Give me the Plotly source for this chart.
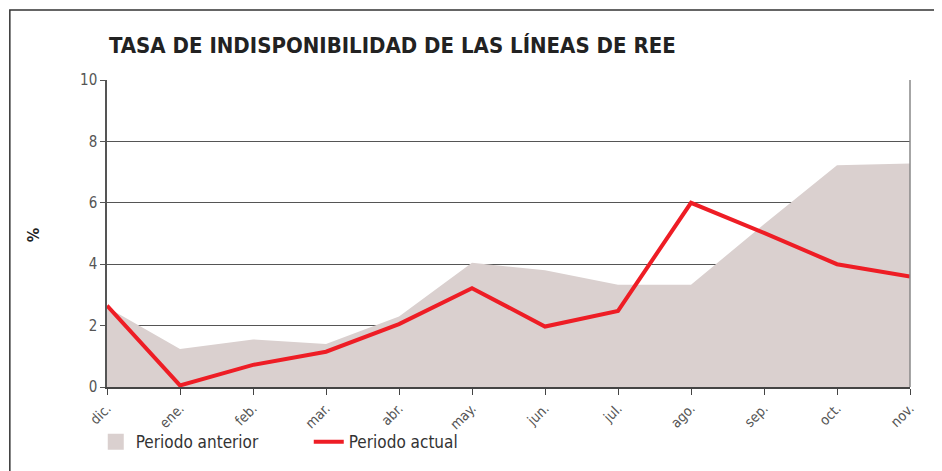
import plotly.graph_objects as go

meses = ["dic.", "ene.", "feb.", "mar.", "abr.", "may.", "jun.", "jul.", "ago.", "sep.", "oct.", "nov."]
periodo_anterior = [2.6, 1.24, 1.55, 1.4, 2.3, 4.05, 3.8, 3.33, 3.33, 5.3, 7.22, 7.28]
periodo_actual = [2.65, 0.05, 0.72, 1.15, 2.05, 3.22, 1.97, 2.48, 6.0, 5.02, 4.0, 3.6]

FONT = "DejaVu Sans Condensed, Liberation Sans Narrow, sans-serif"
AREA = "#dad0cf"

fig = go.Figure()
fig.add_trace(go.Scatter(
    x=meses, y=periodo_anterior, name="Periodo anterior",
    mode="none", fill="tozeroy", fillcolor=AREA, showlegend=False,
))
# legend patch for the area (square swatch like the original)
fig.add_trace(go.Scatter(
    x=[None], y=[None], name="Periodo anterior", mode="markers",
    marker=dict(symbol="square", size=17, color=AREA),
))
fig.add_trace(go.Scatter(
    x=meses, y=periodo_actual, name="Periodo actual",
    mode="lines", line=dict(color="#ee1d25", width=4),
))

# page body adds an 8px offset, so the figure is a bit smaller than the window
fig.update_layout(
    width=934, height=463,
    margin=dict(l=99, r=32, t=72, b=84, autoexpand=False),
    paper_bgcolor="white", plot_bgcolor="white",
    font=dict(family=FONT, color="#444", size=14),
    showlegend=True,
    legend=dict(
        orientation="h", x=-0.014, y=-0.18, xanchor="left", yanchor="middle",
        font=dict(size=17, color="#333"), entrywidth=168,
        bgcolor="rgba(0,0,0,0)", traceorder="normal",
    ),
    xaxis=dict(
        range=[0, 11], tickangle=-45, showgrid=False, showline=True,
        linecolor="#444", linewidth=1.5, ticks="outside", ticklen=6,
        tickcolor="#444", tickfont=dict(size=14, color="#555"), automargin=False,
    ),
    yaxis=dict(
        range=[0, 10], dtick=2, showgrid=True, gridcolor="#555", gridwidth=1,
        zeroline=False, showline=True, linecolor="#555", linewidth=1.5,
        ticks="outside", ticklen=5, tickcolor="#555",
        tickfont=dict(size=15, color="#555"), automargin=False,
    ),
    annotations=[
        dict(text="<b>TASA DE INDISPONIBILIDAD DE LAS LÍNEAS DE REE</b>",
             xref="paper", yref="paper", x=0, y=1.114, xanchor="left", yanchor="middle",
             showarrow=False, font=dict(size=22, color="#222", family=FONT)),
        dict(text="<b>%</b>", xref="paper", yref="paper", x=-0.092, y=0.495,
             xanchor="center", yanchor="middle",
             textangle=-90, showarrow=False, font=dict(size=16, color="#222")),
    ],
    shapes=[
        dict(type="rect", xref="paper", yref="paper", x0=-0.121, x1=1.034,
             y0=-0.35, y1=1.228, line=dict(color="#333", width=1.5)),
        dict(type="line", xref="paper", yref="paper", x0=1, x1=1, y0=0, y1=1,
             line=dict(color="#888", width=1.5)),
    ],
)

fig.write_html("out.html")
